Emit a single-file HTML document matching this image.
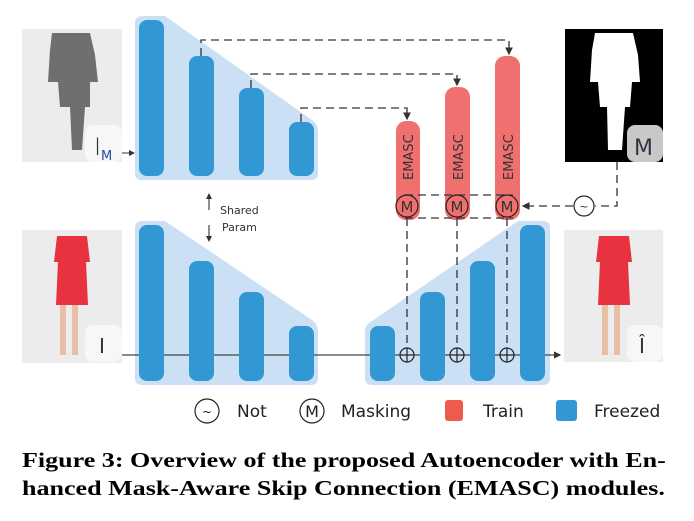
<!DOCTYPE html>
<html><head><meta charset="utf-8"><style>
body{margin:0;background:#fff;width:694px;height:521px;overflow:hidden;position:relative}
svg{display:block}
.t{font-family:"DejaVu Sans","Liberation Sans",sans-serif}
.cap{position:absolute;left:22px;top:446px;width:540px;font-family:"Liberation Serif",serif;font-weight:bold;font-size:21px;line-height:28px;color:#000;white-space:nowrap;transform:scaleX(1.24);transform-origin:0 0}
</style></head><body>
<svg width="694" height="521">
<defs><marker id="ah" markerWidth="6" markerHeight="6" refX="5" refY="3" orient="auto"><path d="M0,0L6,3L0,6z" fill="#333"/></marker></defs>
<g>
<rect x="22" y="29" width="100" height="133" fill="#ececec"/>
<path d="M52,33 L90,33 L95,55 L98,82 L90,82 L90,107 L85,107 L82,150 L72,150 L70,107 L60,107 L58,82 L48,82 L50,50Z" fill="#6e7070"/>
<rect x="85" y="125" width="37" height="37" rx="8" fill="#f7f7f7"/>
<text x="94" y="155" class="t" font-size="24" font-weight="300" fill="#333">I</text><text x="101" y="160" class="t" font-size="13" fill="#2a4a9a">M</text>
</g>
<g>
<rect x="22" y="230" width="100" height="133" fill="#ececec"/>
<path d="M57,236 L87,236 L90,262 L86,262 L88,305 L56,305 L58,262 L54,262Z" fill="#e8323f"/>
<rect x="60" y="305" width="6" height="50" fill="#e8bfa6"/><rect x="72" y="305" width="6" height="50" fill="#e8bfa6"/>
<rect x="85" y="325" width="37" height="37" rx="8" fill="#f7f7f7"/>
<text x="99" y="353" class="t" font-size="20" fill="#333">I</text>
</g>
<g>
<rect x="565" y="29" width="98" height="133" fill="#000"/>
<path d="M595,33 L633,33 L638,55 L640,82 L632,82 L630,107 L625,107 L622,150 L608,150 L607,107 L600,107 L598,82 L590,82 L592,50Z" fill="#fff"/>
<rect x="627" y="125" width="36" height="37" rx="8" fill="#c8c8c8"/>
<text x="634" y="155" class="t" font-size="22" fill="#334">M</text>
</g>
<g>
<rect x="564" y="230" width="99" height="132" fill="#ececec"/>
<path d="M599,236 L629,236 L632,262 L628,262 L630,305 L598,305 L600,262 L596,262Z" fill="#e8323f"/>
<rect x="602" y="305" width="6" height="50" fill="#e8bfa6"/><rect x="614" y="305" width="6" height="50" fill="#e8bfa6"/>
<rect x="627" y="325" width="36" height="37" rx="8" fill="#f7f7f7"/>
<text x="639" y="353" class="t" font-size="20" fill="#333">Î</text>
</g>
<path d="M143,16 L165,16 L312,120 Q318,124 318,132 L318,173 Q318,180 311,180 L142,180 Q135,180 135,173 L135,23 Q135,16 143,16Z" fill="#cbe0f4"/>
<path d="M143,221 L165,221 L312,320 Q318,324 318,332 L318,378 Q318,385 311,385 L142,385 Q135,385 135,378 L135,228 Q135,221 143,221Z" fill="#cbe0f4"/>
<path d="M372,321 L518,221 L543,221 Q550,221 550,228 L550,378 Q550,385 543,385 L372,385 Q365,385 365,378 L365,330 Q365,325 372,321Z" fill="#cbe0f4"/>
<g fill="#3198d4">
<rect x="139" y="20" width="25" height="156" rx="8"/>
<rect x="189" y="56" width="25" height="120" rx="8"/>
<rect x="239" y="88" width="25" height="88" rx="8"/>
<rect x="289" y="122" width="25" height="54" rx="8"/>
</g>
<line x1="122" y1="355" x2="560" y2="355" stroke="#444" stroke-width="1.2" marker-end="url(#ah)"/>
<g fill="#3198d4">
<rect x="139" y="225" width="25" height="156" rx="8"/>
<rect x="189" y="261" width="25" height="120" rx="8"/>
<rect x="239" y="292" width="25" height="89" rx="8"/>
<rect x="289" y="326" width="25" height="55" rx="8"/>
<rect x="370" y="326" width="25" height="55" rx="8"/>
<rect x="420" y="292" width="25" height="89" rx="8"/>
<rect x="470" y="261" width="25" height="120" rx="8"/>
<rect x="520" y="225" width="25" height="156" rx="8"/>
</g>
<line x1="122" y1="153" x2="134" y2="153" stroke="#333" marker-end="url(#ah)"/>
<g fill="#f07070">
<rect x="396" y="121" width="24" height="99" rx="10"/>
<rect x="445" y="87" width="25" height="133" rx="10"/>
<rect x="495" y="56" width="25" height="164" rx="10"/>
</g>
<g class="t" font-size="13" fill="#333">
<text transform="translate(413,180) rotate(-90)">EMASC</text>
<text transform="translate(463,180) rotate(-90)">EMASC</text>
<text transform="translate(513,180) rotate(-90)">EMASC</text>
</g>
<g fill="none" stroke="#333" stroke-width="1.3" stroke-dasharray="8,5">
<path d="M201,56 V40 H509 V54" marker-end="url(#ah)"/>
<path d="M251,88 V74 H457 V85" marker-end="url(#ah)"/>
<path d="M301,122 V108 H407 V119" marker-end="url(#ah)"/>
<path d="M405,195 H513 M405,218 H513"/>
<path d="M617,162 V206 H595 M573,206 H523" marker-end="url(#ah)"/>
<path d="M407,218 V344 M457,218 V344 M507,218 V344"/>
</g>
<g fill="none" stroke="#222" stroke-width="1.2">
<circle cx="407" cy="206" r="11"/><circle cx="457" cy="206" r="11"/><circle cx="507" cy="206" r="11"/>
<circle cx="584" cy="206" r="10" fill="#fff"/>
<circle cx="407" cy="355" r="7" fill="#cbe0f4"/><circle cx="457" cy="355" r="7" fill="#cbe0f4"/><circle cx="507" cy="355" r="7" fill="#cbe0f4"/>
<path d="M400,355h14M407,348v14M450,355h14M457,348v14M500,355h14M507,348v14"/>
</g>
<g class="t" fill="#333" text-anchor="middle">
<text x="407" y="212" font-size="15">M</text><text x="457" y="212" font-size="15">M</text><text x="507" y="212" font-size="15">M</text>
<text x="584" y="210" font-size="11">~</text>
</g>
<line x1="209" y1="210" x2="209" y2="194" stroke="#222" marker-end="url(#ah)"/>
<line x1="209" y1="225" x2="209" y2="241" stroke="#222" marker-end="url(#ah)"/>
<text x="220" y="214" class="t" font-size="11" fill="#333">Shared</text>
<text x="222" y="231" class="t" font-size="11" fill="#333">Param</text>
<g class="t" font-size="17" fill="#222">
<circle cx="207" cy="411" r="12" fill="none" stroke="#222" stroke-width="1.2"/><text x="207" y="416" text-anchor="middle" font-size="12">~</text>
<text x="237" y="417">Not</text>
<circle cx="312" cy="411" r="12" fill="none" stroke="#222" stroke-width="1.2"/><text x="312" y="417" text-anchor="middle" font-size="16">M</text>
<text x="341" y="417">Masking</text>
<rect x="445" y="400" width="18" height="21" rx="3" fill="#f05a4c"/><text x="483" y="417">Train</text>
<rect x="556" y="400" width="21" height="21" rx="3" fill="#3198d4"/><text x="594" y="417">Freezed</text>
</g>
</svg>
<div class="cap">Figure 3: Overview of the proposed Autoencoder with En-<br>hanced Mask-Aware Skip Connection (EMASC) modules.</div>
</body></html>
